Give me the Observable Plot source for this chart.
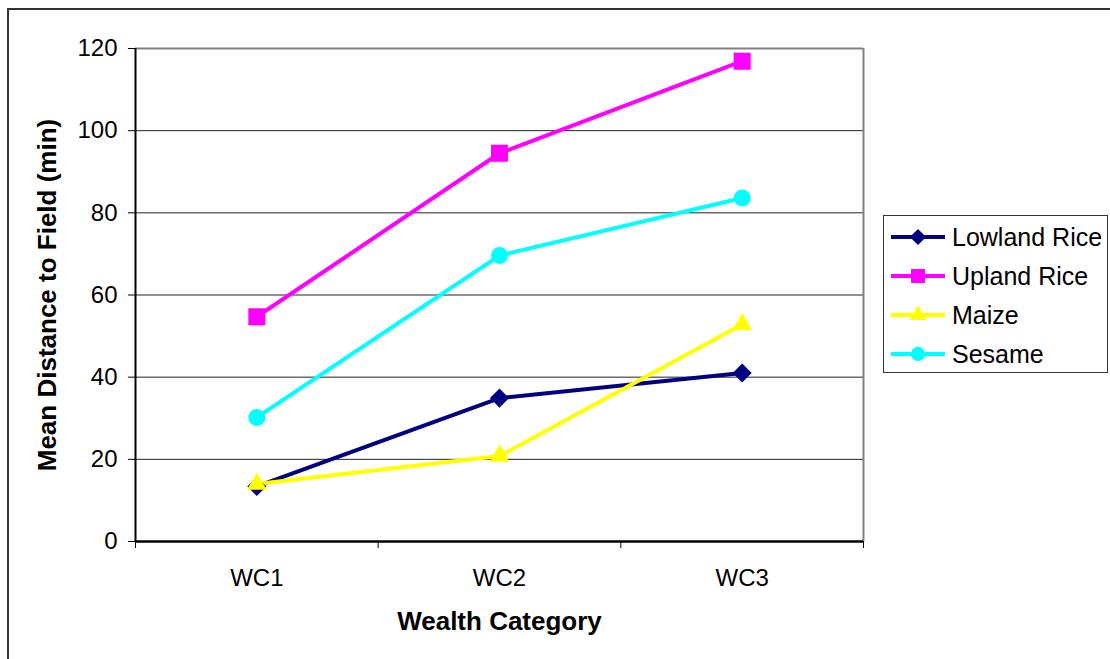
<!DOCTYPE html>
<html>
<head>
<meta charset="utf-8">
<script src="https://cdn.jsdelivr.net/npm/d3@7"></script>
<script src="https://cdn.jsdelivr.net/npm/@observablehq/plot@0.6"></script>
<style>
  html, body { margin: 0; padding: 0; background: #fff; overflow: hidden; }
  #wrap { position: relative; width: 1110px; height: 659px; }
  #frame { position: absolute; left: 7px; top: 8px; width: 1110px; height: 660px; border: 2px solid #333; box-sizing: border-box; pointer-events: none; }
  #legend { position: absolute; left: 883px; top: 215px; width: 225px; height: 158px; border: 1.5px solid #333; box-sizing: border-box; background: #fff; }
</style>
</head>
<body>
<div id="wrap">
  <div id="chart"></div>
  <div id="frame"></div>
  <div id="legend"></div>
</div>
<script>
const categories = ["WC1", "WC2", "WC3"];
const series = ["Lowland Rice", "Upland Rice", "Maize", "Sesame"];
const lowland = [13.4, 34.9, 41.0];
const upland = [54.7, 94.5, 116.9];
const maize = [14.0, 20.8, 52.8];
const sesame = [30.2, 69.6, 83.6];
const colors = ["#000080", "#FF00FF", "#FFFF00", "#00FFFF"];
const symbols = ["diamond2", "square", "triangle", "circle"];
const symbolR = [8.6, 9.6, 7.4, 8.5];
const yTicks = [0, 20, 40, 60, 80, 100, 120];
const xTitle = "Wealth Category";
const yTitle = "Mean Distance to Field (min)";

const valuesBySeries = [lowland, upland, maize, sesame];
const data = [];
series.forEach((s, si) => {
  categories.forEach((c, ci) => {
    data.push({series: s, si, ci, x: ci + 0.5, y: valuesBySeries[si][ci]});
  });
});

const font = "'Liberation Sans', Arial, sans-serif";

const marks = [
  Plot.gridY(yTicks.slice(1, -1), {stroke: "#222", strokeOpacity: 1, strokeWidth: 1}),
  Plot.ruleY([yTicks[yTicks.length - 1]], {stroke: "#808080", strokeWidth: 2}),
  Plot.ruleX([categories.length], {stroke: "#808080", strokeWidth: 2}),
  Plot.axisY(yTicks, {tickSize: 7, tickPadding: 11, label: null, fontSize: 24, stroke: "#000"}),
  Plot.axisX(d3.range(categories.length + 1), {tickSize: 7, tickFormat: () => "", label: null, stroke: "#000"}),
  Plot.axisX(categories.map((c, i) => i + 0.5), {tickSize: 0, tickPadding: 27, tickFormat: v => categories[Math.round(v - 0.5)], label: null, fontSize: 24}),
  Plot.ruleY([0], {stroke: "#000", strokeWidth: 2.5}),
  Plot.ruleX([0], {stroke: "#000", strokeWidth: 2}),
  Plot.line(data, {x: "x", y: "y", z: "series", stroke: d => colors[d.si], strokeWidth: 4})
];
series.forEach((s, si) => {
  marks.push(Plot.dot(data.filter(d => d.si === si), {
    x: "x", y: "y", symbol: symbols[si], r: symbolR[si], fill: colors[si], stroke: "none"
  }));
});
marks.push(Plot.text([xTitle], {frameAnchor: "bottom", dy: 80, text: d => d, fontSize: 26, fontWeight: "bold", fill: "#000", textAnchor: "middle", lineAnchor: "middle"}));
marks.push(Plot.text([yTitle], {frameAnchor: "left", dx: -88, rotate: -90, text: d => d, fontSize: 26, fontWeight: "bold", fill: "#000", textAnchor: "middle", lineAnchor: "middle"}));

const chart = Plot.plot({
  width: 1110,
  height: 659,
  marginLeft: 135,
  marginRight: 247,
  marginTop: 48,
  marginBottom: 118,
  x: {type: "linear", domain: [0, categories.length], axis: null},
  y: {domain: [0, 120], axis: null},
  color: {type: "identity"},
  style: {fontFamily: font, fontSize: "24px", color: "#000", background: "#fff"},
  marks
});
document.getElementById("chart").appendChild(chart);

// Legend
const lg = d3.select("#legend").append("svg").attr("width", 222).attr("height", 155)
  .style("font-family", font);
const rowY = [21, 60, 99, 138];
const symMap = {diamond2: d3.symbolDiamond2, square: d3.symbolSquare, triangle: d3.symbolTriangle, circle: d3.symbolCircle};
series.forEach((s, si) => {
  const g = lg.append("g").attr("transform", `translate(0,${rowY[si]})`);
  g.append("line").attr("x1", 7).attr("x2", 61).attr("y1", 0).attr("y2", 0)
    .attr("stroke", colors[si]).attr("stroke-width", 4);
  const sizeScale = si === 1 ? 0.82 : 0.85;
  g.append("path").attr("transform", "translate(34,0)")
    .attr("d", d3.symbol(symMap[symbols[si]], Math.PI * (symbolR[si] * sizeScale) ** 2)())
    .attr("fill", colors[si]);
  g.append("text").attr("x", 68).attr("y", 0).attr("dy", "0.35em")
    .attr("font-size", 25).attr("fill", "#000").text(s);
});
</script>
</body>
</html>
